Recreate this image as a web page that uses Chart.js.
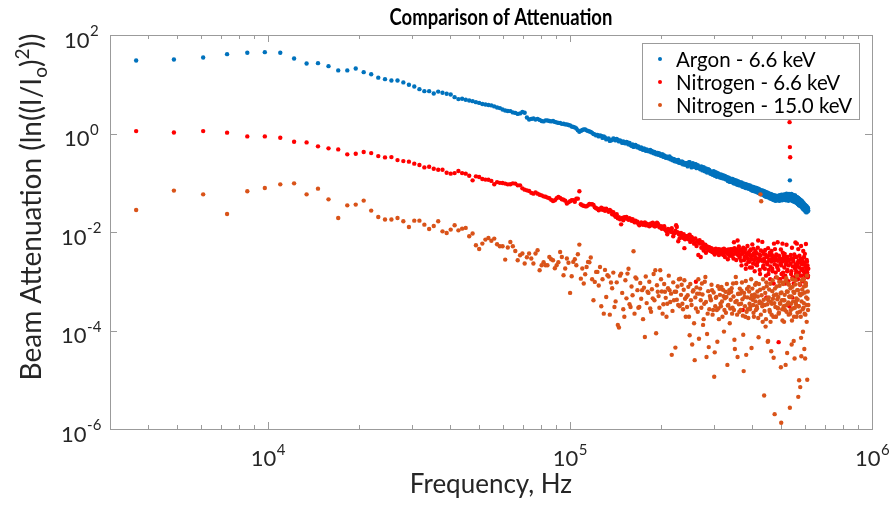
<!DOCTYPE html>
<html>
<head>
<meta charset="utf-8">
<title>Comparison of Attenuation</title>
<script src="https://cdn.jsdelivr.net/npm/chart.js@4.4.0/dist/chart.umd.min.js"></script>
<style>
  html, body { margin: 0; padding: 0; background: #fff; }
  #wrap { width: 891px; height: 506px; }
</style>
</head>
<body>
<div id="wrap"><canvas id="attChart" width="891" height="506"></canvas></div>
<script>
// Frequency bins (Hz): bins 3-40, even bins 42-100, every 3rd bin 103-199, even bins 200-504
const freqHz = [
  3662, 4883, 6104, 7324, 8545, 9766, 10986, 12207, 13428, 14648,
  15869, 17090, 18311, 19531, 20752, 21973, 23193, 24414, 25635, 26855,
  28076, 29297, 30518, 31738, 32959, 34180, 35400, 36621, 37842, 39063,
  40283, 41504, 42725, 43945, 45166, 46387, 47607, 48828,

  51270, 53711, 56152, 58594, 61035, 63477, 65918, 68359, 70801, 73242,
  75684, 78125, 80566, 83008, 85449, 87891, 90332, 92773, 95215, 97656,
  100098, 102539, 104980, 107422, 109863, 112305, 114746, 117188, 119629, 122070,

  125732, 129395, 133057, 136719, 140381, 144043, 147705, 151367, 155029, 158691,
  162354, 166016, 169678, 173340, 177002, 180664, 184326, 187988, 191650, 195313,
  198975, 202637, 206299, 209961, 213623, 217285, 220947, 224609, 228271, 231934,
  235596, 239258, 242920,

  244141, 246582, 249023, 251465, 253906, 256348, 258789, 261230, 263672, 266113,
  268555, 270996, 273438, 275879, 278320, 280762, 283203, 285645, 288086, 290527,
  292969, 295410, 297852, 300293, 302734, 305176, 307617, 310059, 312500, 314941,
  317383, 319824, 322266, 324707, 327148, 329590, 332031, 334473, 336914, 339355,
  341797, 344238, 346680, 349121, 351563, 354004, 356445, 358887, 361328, 363770,
  366211, 368652, 371094, 373535, 375977, 378418, 380859, 383301, 385742, 388184,
  390625, 393066, 395508, 397949, 400391, 402832, 405273, 407715, 410156, 412598,
  415039, 417480, 419922, 422363, 424805, 427246, 429688, 432129, 434570, 437012,
  439453, 441895, 444336, 446777, 449219, 451660, 454102, 456543, 458984, 461426,
  463867, 466309, 468750, 471191, 473633, 476074, 478516, 480957, 483398, 485840,
  488281, 490723, 493164, 495605, 498047, 500488, 502930, 505371, 507813, 510254,
  512695, 515137, 517578, 520020, 522461, 524902, 527344, 529785, 532227, 533447, 534668, 535889,
  537109, 539551, 541992, 544434, 546875, 549316, 551758, 554199, 556641, 559082,
  561523, 563965, 566406, 568848, 571289, 573730, 576172, 578613, 581055, 583496,
  585938, 588379, 590820, 593262, 595703, 598145, 600586, 603027, 605469, 607910,
  610352, 612793, 615234
];

// odd bins 201-503 (437 and 439 are above)
const freqHzOdd = [
  245361, 247803, 250244, 252686, 255127, 257568, 260010, 262451, 264893, 267334,
  269775, 272217, 274658, 277100, 279541, 281982, 284424, 286865, 289307, 291748,
  294189, 296631, 299072, 301514, 303955, 306396, 308838, 311279, 313721, 316162,
  318604, 321045, 323486, 325928, 328369, 330811, 333252, 335693, 338135, 340576,
  343018, 345459, 347900, 350342, 352783, 355225, 357666, 360107, 362549, 364990,
  367432, 369873, 372314, 374756, 377197, 379639, 382080, 384521, 386963, 389404,
  391846, 394287, 396729, 399170, 401611, 404053, 406494, 408936, 411377, 413818,
  416260, 418701, 421143, 423584, 426025, 428467, 430908, 433350, 435791, 438232,
  440674, 443115, 445557, 447998, 450439, 452881, 455322, 457764, 460205, 462646,
  465088, 467529, 469971, 472412, 474854, 477295, 479736, 482178, 484619, 487061,
  489502, 491943, 494385, 496826, 499268, 501709, 504150, 506592, 509033, 511475,
  513916, 516357, 518799, 521240, 523682, 526123, 528564, 531006,
  538330, 540771, 543213, 545654, 548096, 550537, 552979, 555420, 557861, 560303,
  562744, 565186, 567627, 570068, 572510, 574951, 577393, 579834, 582275, 584717,
  587158, 589600, 592041, 594482, 596924, 599365, 601807, 604248, 606689, 609131,
  611572, 614014
];

// remaining bins: odd 41-99, and 101-198 not in the first list
const freqHzFill = [
  50049, 52490, 54932, 57373, 59814, 62256, 64697, 67139, 69580, 72021,
  74463, 76904, 79346, 81787, 84229, 86670, 89111, 91553, 93994, 96436,
  98877, 101318, 103760, 106201, 108643, 111084, 113525, 115967, 118408, 120850,

  123291, 124512, 126953, 128174, 130615, 131836, 134277, 135498, 137939, 139160,
  141602, 142822, 145264, 146484, 148926, 150146, 152588, 153809, 156250, 157471,
  159912, 161133, 163574, 164795, 167236, 168457, 170898, 172119, 174561, 175781,
  178223, 179443, 181885, 183105, 185547, 186768, 189209, 190430, 192871, 194092,
  196533, 197754, 200195, 201416, 203857, 205078, 207520, 208740, 211182, 212402,
  214844, 216064, 218506, 219727, 222168, 223389, 225830, 227051, 229492, 230713,
  233154, 234375, 236816, 238037, 240479, 241699
];

const argon66 = [
  30.4, 31.8, 35.0, 40.8, 43.6, 44.8, 43.6, 33.3, 26.4, 26.8,
  23.3, 19.1, 19.1, 20.9, 17.6, 16.0, 13.6, 12.7, 11.9, 11.9,
  10.9, 9.8, 9.0, 7.96, 7.25, 7.25, 6.5, 7.1, 6.72, 6.41,
  6.21, 5.47, 4.99, 5.08, 4.85, 4.69, 4.54, 4.33,

  3.98, 3.80, 3.55, 3.28, 2.94, 2.85, 2.62, 2.56, 2.64, 1.93,
  2.02, 1.98, 1.79, 1.85, 1.80, 1.79, 1.68, 1.63, 1.58, 1.53,
  1.46, 1.36, 1.27, 1.08, 1.18, 1.21, 1.13, 1.08, 0.98, 0.915,

  0.915, 0.873, 0.777, 0.724, 0.777, 0.741, 0.691, 0.645, 0.66, 0.587,
  0.535, 0.56, 0.51, 0.487, 0.476, 0.444, 0.465, 0.414, 0.395, 0.404,
  0.36, 0.377, 0.335, 0.327, 0.343, 0.306, 0.299, 0.278, 0.292, 0.259,
  0.266, 0.242, 0.248,

  0.25, 0.23, 0.26, 0.24, 0.22, 0.23, 0.21, 0.235, 0.22, 0.2,
  0.21, 0.195, 0.2, 0.182, 0.195, 0.19, 0.17, 0.18, 0.175, 0.16,
  0.17, 0.155, 0.16, 0.15, 0.158, 0.145, 0.152, 0.138, 0.142, 0.133,
  0.138, 0.128, 0.132, 0.124, 0.13, 0.118, 0.125, 0.113, 0.119, 0.11,
  0.115, 0.107, 0.11, 0.102, 0.108, 0.1, 0.106, 0.097, 0.101, 0.095,
  0.099, 0.092, 0.096, 0.089, 0.093, 0.087, 0.091, 0.085, 0.088, 0.082,
  0.085, 0.079, 0.082, 0.076, 0.08, 0.075, 0.079, 0.072, 0.076, 0.07,
  0.074, 0.068, 0.071, 0.065, 0.069, 0.066, 0.063, 0.068, 0.061, 0.064,
  0.06, 0.064, 0.057, 0.061, 0.056, 0.059, 0.054, 0.057, 0.052, 0.056,
  0.051, 0.055, 0.049, 0.053, 0.05, 0.052, 0.047, 0.05, 0.046, 0.049,
  0.047, 0.051, 0.046, 0.05, 0.053, 0.049, 0.054, 0.05, 0.056, 0.051,
  0.055, 0.05, 0.057, 0.052, 0.049, 0.054, 0.058, 0.051, 0.055, 0.052, 0.112, 0.055,
  0.05, 0.056, 0.052, 0.047, 0.053, 0.051, 0.046, 0.05, 0.055, 0.045,
  0.048, 0.043, 0.05, 0.045, 0.041, 0.046, 0.04, 0.044, 0.038, 0.042,
  0.036, 0.041, 0.034, 0.038, 0.033, 0.036, 0.031, 0.034, 0.029, 0.033,
  0.028, 0.031, 0.027
];
const argon66Odd = [
  0.215, 0.262, 0.228, 0.205, 0.248, 0.213, 0.238, 0.198, 0.226, 0.212,
  0.188, 0.214, 0.178, 0.206, 0.171, 0.196, 0.161, 0.188, 0.182, 0.152,
  0.162, 0.145, 0.171, 0.139, 0.163, 0.132, 0.156, 0.149, 0.128, 0.147,
  0.124, 0.142, 0.121, 0.137, 0.117, 0.131, 0.108, 0.127, 0.104, 0.121,
  0.103, 0.119, 0.098, 0.114, 0.095, 0.111, 0.091, 0.108, 0.089, 0.103,
  0.088, 0.101, 0.083, 0.097, 0.081, 0.095, 0.078, 0.092, 0.077, 0.089,
  0.075, 0.088, 0.072, 0.084, 0.069, 0.082, 0.068, 0.08, 0.066, 0.078,
  0.064, 0.077, 0.062, 0.074, 0.06, 0.071, 0.058, 0.07, 0.057, 0.068,
  0.054, 0.066, 0.052, 0.064, 0.051, 0.062, 0.05, 0.06, 0.048, 0.059,
  0.047, 0.057, 0.045, 0.056, 0.044, 0.055, 0.043, 0.054, 0.044, 0.053,
  0.044, 0.055, 0.043, 0.056, 0.045, 0.057, 0.044, 0.055, 0.046, 0.058,
  0.045, 0.057, 0.044, 0.06, 0.046, 0.056, 0.043, 0.059,
  0.045, 0.059, 0.043, 0.057, 0.042, 0.056, 0.041, 0.054, 0.04, 0.052,
  0.039, 0.051, 0.037, 0.049, 0.035, 0.047, 0.034, 0.045, 0.033, 0.043,
  0.031, 0.04, 0.029, 0.038, 0.028, 0.036, 0.026, 0.034, 0.025, 0.032,
  0.026, 0.03
];
const argon66Fill = [
  4.18, 3.89, 3.72, 3.38, 3.08, 2.87, 2.68, 2.50, 2.74, 2.12,
  1.98, 1.93, 1.89, 1.76, 1.84, 1.76, 1.72, 1.64, 1.57, 1.53,
  1.49, 1.39, 1.33, 1.16, 1.13, 1.21, 1.16, 1.10, 1.03, 0.96,

  0.937, 0.873, 0.894, 0.814, 0.834, 0.759, 0.796, 0.708, 0.741, 0.796,
  0.724, 0.777, 0.691, 0.724, 0.645, 0.691, 0.63, 0.676, 0.601, 0.645,
  0.56, 0.601, 0.547, 0.587, 0.522, 0.547, 0.488, 0.522, 0.465, 0.499,
  0.444, 0.476, 0.434, 0.454, 0.414, 0.444, 0.395, 0.424, 0.377, 0.404,
  0.368, 0.395, 0.352, 0.377, 0.335, 0.36, 0.32, 0.343, 0.313, 0.327,
  0.299, 0.32, 0.285, 0.306, 0.272, 0.292, 0.266, 0.285, 0.254, 0.272,
  0.248, 0.266, 0.236, 0.254, 0.231, 0.248
];

const nitrogen66 = [
  1.12, 1.05, 1.12, 1.04, 0.873, 0.873, 0.822, 0.682, 0.66, 0.548,
  0.499, 0.476, 0.377, 0.389, 0.42, 0.40, 0.348, 0.327, 0.332, 0.288,
  0.275, 0.268, 0.244, 0.229, 0.205, 0.212, 0.193, 0.184, 0.184, 0.160,
  0.153, 0.157, 0.173, 0.157, 0.153, 0.139, 0.112, 0.135,

  0.119, 0.115, 0.093, 0.0996, 0.096, 0.093, 0.096, 0.0886, 0.0724, 0.0679,
  0.0601, 0.0601, 0.0555, 0.0518, 0.0483, 0.0426, 0.0483, 0.0494, 0.0454, 0.0377,
  0.042, 0.044, 0.0475, 0.067, 0.0348, 0.0332, 0.0348, 0.0365, 0.0356, 0.0303,

  0.0289, 0.0296, 0.0275, 0.0263, 0.0218, 0.019, 0.0143, 0.0199, 0.0185, 0.0181,
  0.0169, 0.0157, 0.0137, 0.015, 0.0157, 0.0137, 0.0143, 0.0154, 0.0131, 0.0148,
  0.0125, 0.0126, 0.0113, 0.009, 0.0108, 0.0119, 0.0094, 0.0137, 0.0065, 0.0094,
  0.0078, 0.0047, 0.0082,

  0.0082, 0.0071, 0.0088, 0.0066, 0.0075, 0.0072, 0.0059, 0.00098, 0.0064, 0.0034,
  0.0068, 0.0031, 0.0062, 0.0056, 0.0049, 0.0055, 0.0046, 0.005, 0.0043, 0.0047,
  0.0045, 0.004, 0.0044, 0.0037, 0.0042, 0.0043, 0.0038, 0.0045, 0.0036, 0.0041,
  0.0037, 0.0044, 0.0034, 0.0041, 0.0039, 0.0042, 0.0036, 0.0044, 0.0033, 0.004,
  0.0038, 0.0045, 0.0035, 0.0062, 0.0041, 0.0044, 0.0036, 0.0067, 0.0039, 0.0032,
  0.0035, 0.0026, 0.0041, 0.00026, 0.0038, 0.0031, 0.0045, 0.0022, 0.0036, 0.0029,
  0.0039, 0.0025, 0.0042, 0.0032, 0.0019, 0.0034, 0.0046, 0.0027, 0.0031, 0.0022,
  0.0037, 0.0024, 0.0067, 0.0029, 0.0017, 0.0033, 0.00036, 0.0026, 0.004, 0.0021,
  0.0029, 0.0018, 0.0035, 0.00047, 0.0024, 0.0032, 0.0014, 0.0027, 0.0038, 0.002,
  0.0025, 0.0034, 0.0016, 0.0029, 0.0058, 0.0022, 0.0031, 0.0012, 0.0027, 0.0019,
  0.0026, 0.000058, 0.0031, 0.0011, 0.0023, 0.0021, 0.0028, 0.0058, 0.0015, 0.0033,
  0.0019, 0.0027, 0.0009, 0.0024, 0.0031, 0.0017, 0.0026, 0.0021, 0.00031, 1.7, 0.53, 0.33,
  0.0023, 0.0014, 0.0029, 0.00047, 0.002, 0.0025, 0.0012, 0.0031, 0.0018, 0.0022,
  0.0016, 0.0058, 0.0021, 0.0011, 0.0026, 0.0019, 0.0024, 0.0013, 0.0029, 0.0017,
  0.0022, 0.001, 0.0025, 0.0016, 0.0031, 0.0014, 0.0021, 0.0009, 0.0019, 0.0027,
  0.0015, 0.0012, 0.0018
];
const nitrogen66Odd = [
  0.0076, 0.0085, 0.0063, 0.0079, 0.0069, 0.0058, 0.0074, 0.0052, 0.0066, 0.0061,
  0.0058, 0.0048, 0.0061, 0.0042, 0.0053, 0.0038, 0.0051, 0.0044, 0.0049, 0.0041,
  0.0047, 0.0039, 0.0043, 0.0035, 0.0046, 0.0039, 0.0042, 0.0034, 0.0044, 0.0038,
  0.0041, 0.0035, 0.0046, 0.0031, 0.0043, 0.0038, 0.0028, 0.0042, 0.0036, 0.0045,
  0.0033, 0.0042, 0.0029, 0.0047, 0.0037, 0.0027, 0.0044, 0.0034, 0.0051, 0.003,
  0.0044, 0.0021, 0.0036, 0.0048, 0.0027, 0.0039, 0.0018, 0.0033, 0.0052, 0.0025,
  0.0035, 0.0019, 0.0044, 0.0028, 0.0056, 0.0023, 0.0037, 0.0016, 0.0041, 0.0029,
  0.0021, 0.0048, 0.0026, 0.0035, 0.0014, 0.0042, 0.0027, 0.0063, 0.0019, 0.0036,
  0.0025, 0.0043, 0.0013, 0.0031, 0.0022, 0.0047, 0.0017, 0.0034, 0.0011, 0.0028,
  0.0041, 0.0018, 0.0032, 0.0009, 0.0026, 0.0045, 0.0015, 0.0035, 0.0021, 0.0062,
  0.0017, 0.0033, 0.0011, 0.0028, 0.0044, 0.0014, 0.0025, 0.0038, 0.0012, 0.0029,
  0.0036, 0.0013, 0.0022, 0.0055, 0.0016, 0.0031, 0.001, 0.0027,
  0.0034, 0.0016, 0.0048, 0.0012, 0.0027, 0.0009, 0.0035, 0.0019, 0.0061, 0.0014,
  0.0031, 0.0011, 0.0024, 0.0045, 0.0015, 0.0033, 0.00085, 0.0026, 0.0052, 0.0013,
  0.0028, 0.0018, 0.0041, 0.0011, 0.0023, 0.0036, 0.0013, 0.0057, 0.0017, 0.0025,
  0.0021, 0.0013
];
const nitrogen66Fill = [
  0.131, 0.116, 0.109, 0.103, 0.0986, 0.0929, 0.0973, 0.0886, 0.0769, 0.0701,
  0.0624, 0.0638, 0.0569, 0.053, 0.0499, 0.045, 0.044, 0.0513, 0.0461, 0.043,
  0.04, 0.044, 0.041, 0.0476, 0.0365, 0.034, 0.0332, 0.0373, 0.0365, 0.0317,

  0.0296, 0.0275, 0.031, 0.0282, 0.0269, 0.0296, 0.0257, 0.0282, 0.0229, 0.0251,
  0.0203, 0.0229, 0.0199, 0.0181, 0.0194, 0.0173, 0.019, 0.0203, 0.0177, 0.019,
  0.0169, 0.0181, 0.0157, 0.0169, 0.0161, 0.0147, 0.0143, 0.0157, 0.014, 0.015,
  0.0137, 0.0147, 0.0143, 0.0131, 0.015, 0.0137, 0.0147, 0.0131, 0.014, 0.0154,
  0.0137, 0.0125, 0.0131, 0.0116, 0.0122, 0.0131, 0.0111, 0.0103, 0.0116, 0.0108,
  0.0101, 0.0114, 0.0099, 0.0082, 0.0094, 0.0106, 0.0127, 0.0099, 0.009, 0.0075,
  0.0096, 0.0086, 0.0076, 0.009, 0.0071, 0.0082
];

const nitrogen150 = [
  0.0279, 0.0692, 0.0582, 0.0232, 0.067, 0.078, 0.0929, 0.0973, 0.0582, 0.0759,
  0.046, 0.0192, 0.0348, 0.036, 0.0434, 0.0272, 0.0201, 0.0179, 0.0179, 0.0192,
  0.0165, 0.0126, 0.017, 0.017, 0.0141, 0.0115, 0.0132, 0.0165, 0.0103, 0.00955,
  0.0112, 0.0137, 0.0108, 0.0117, 0.0121, 0.0082, 0.0093, 0.0054,

  0.00582, 0.00755, 0.00734, 0.00513, 0.00275, 0.00627, 0.00412, 0.00337, 0.00229, 0.00365,
  0.00229, 0.00426, 0.00211, 0.00211, 0.00311, 0.00267, 0.00211, 0.00393, 0.00132, 0.00289,
  0.00058, 0.00247, 0.00211, 0.00555, 0.00181, 0.00139, 0.00247, 0.00303, 0.00041, 0.00155,

  0.00195, 0.00022, 0.00132, 0.00094, 0.0003, 0.00013, 0.00143, 0.00019, 0.00143, 0.0003,
  0.00406, 0.00113, 0.0003, 0.00066, 0.000074, 0.00061, 0.00028, 0.00045, 0.00167, 0.00061,
  0.00167, 0.00022, 0.00061, 0.00035, 0.00066, 0.000032, 0.00041, 0.00061, 0.00033, 0.00113,
  0.00035, 0.00105, 0.00048,

  0.0003, 0.00077, 0.00008, 0.00041, 0.000052, 0.00066, 0.000025, 0.00028, 0.00056, 0.0011,
  0.00056, 0.00041, 0.0009, 0.00013, 0.00035, 0.00122, 0.000029, 0.00022, 0.000046, 0.0005,
  0.00041, 0.00066, 0.00026, 0.0000115, 0.00031, 0.00048, 0.000059, 0.00028, 0.0007, 0.00035,
  0.00077, 0.00019, 0.0005, 0.00026, 0.00061, 0.00048, 0.00002, 0.00033, 0.00066, 0.00028,
  0.00061, 0.00022, 0.0009, 0.00026, 0.000042, 0.00122, 0.0004, 0.000029, 0.00056, 0.00024,
  0.00056, 0.00035, 0.00094, 0.0002, 0.000015, 0.00048, 0.00019, 0.000032, 0.0007, 0.00027,
  0.00077, 0.00035, 0.0003, 0.0011, 0.00052, 0.00042, 0.00023, 0.00048, 0.00085, 0.00026,
  0.00031, 0.00062, 0.00018, 0.00088, 0.00039, 0.0582, 0.042, 0.00035, 0.00015, 0.00072,
  0.0000048, 0.00033, 0.00012, 0.00095, 0.00045, 0.000059, 0.00041, 0.00068, 0.00024, 0.00015,
  0.000038, 0.00035, 0.00105, 0.00019, 0.00052, 0.000002, 0.0003, 0.00019, 0.00078, 0.00043,
  0.00028, 0.00022, 0.00098, 0.00036, 0.00057, 0.00000134, 0.00041, 0.00016, 0.00088, 0.00031,
  0.00041, 0.00026, 0.00002, 0.00115, 0.00062, 0.00034, 0.0009, 0.00021, 0.00049, 0.00048, 0.0000027, 0.00022,
  0.00072, 0.00035, 0.000052, 0.0011, 0.00028, 0.00061, 0.00019, 0.000027, 0.00086, 0.00038,
  0.00045, 0.0013, 0.00023, 0.00066, 0.00031, 0.0000098, 0.00055, 0.0000071, 0.00019, 0.00003,
  0.00105, 0.00056, 0.000094, 0.00029, 0.00078, 0.00022, 0.000027, 0.00092, 0.00047, 0.00015,
  0.00001, 0.00062, 0.00033
];
const nitrogen150Odd = [
  0.00052, 0.00019, 0.00088, 0.00033, 0.00062, 0.00014, 0.00047, 0.00075, 0.00024, 0.000068,
  0.00071, 0.00029, 0.00054, 0.00017, 0.00098, 0.00038, 0.000085, 0.00063, 0.00027, 0.00044,
  0.00085, 0.00021, 0.00059, 0.000036, 0.00046, 0.00026, 0.00079, 0.00017, 0.00053, 0.00031,
  0.00039, 0.00067, 0.000095, 0.00045, 0.00023, 0.00088, 0.00032, 0.00057, 0.00014, 0.00042,
  0.00072, 0.00029, 0.00049, 0.000065, 0.00038, 0.00092, 0.00021, 0.00055, 0.00034, 0.00071,
  0.00026, 0.00064, 0.00043, 0.000082, 0.00058, 0.00031, 0.00101, 0.00024, 0.00047, 0.00018,
  0.00062, 0.00027, 0.00045, 0.000044, 0.00071, 0.00033, 0.00019, 0.00054, 0.00039, 0.00092,
  0.00028, 0.00049, 0.000073, 0.00036, 0.00067, 0.00021, 0.00052, 0.00031, 0.0011, 0.00042,
  0.00025, 0.00058, 0.00017, 0.00079, 0.00034, 0.000061, 0.00047, 0.00026, 0.00089, 0.00038,
  0.00021, 0.00063, 0.00044, 0.000028, 0.00036, 0.00071, 0.00019, 0.00054, 0.0012, 0.00029,
  0.00048, 0.00023, 0.00081, 0.00035, 0.000018, 0.00059, 0.00027, 0.00094, 0.00041, 0.00015,
  0.00053, 0.00032, 0.00102, 0.00024, 0.000035, 0.00061, 0.00037, 0.00085,
  0.00026, 0.00049, 0.00016, 0.00077, 0.00039, 0.000061, 0.00058, 0.00029, 0.00105, 0.00034,
  0.00019, 0.00066, 0.00042, 0.0000045, 0.00031, 0.00088, 0.00024, 0.00052, 0.000071, 0.00039,
  0.00068, 0.00027, 0.0011, 0.00036, 0.000042, 0.00059, 0.00021, 0.00081, 0.00033, 0.0013,
  0.00044, 0.00026
];
const nitrogen150Fill = [
  0.00452, 0.00701, 0.00663, 0.00563, 0.00513, 0.00483, 0.00513, 0.00267, 0.00365, 0.00307,
  0.00289, 0.00365, 0.00167, 0.00243, 0.00211, 0.00279, 0.00184, 0.00243, 0.00311, 0.00181,
  0.00237, 0.00126, 0.00279, 0.00353, 0.00113, 0.0009, 0.00195, 0.00243, 0.0011, 0.00097,

  0.00155, 0.00082, 0.00031, 0.0011, 0.0017, 0.00048, 0.00125, 0.00021, 0.00072, 0.0015,
  0.00039, 0.00095, 0.000115, 0.0013, 0.00058, 0.00027, 0.00105, 0.00045, 0.0018, 0.00034,
  0.00078, 0.00052, 0.00022, 0.0012, 0.00066, 0.00029, 0.00092, 0.00044, 0.00017, 0.00074,
  0.00125, 0.00036, 0.00058, 0.00098, 0.00024, 0.00069, 0.0014, 0.00041, 0.000088, 0.00083,
  0.0005, 0.00029, 0.0011, 0.00062, 0.00034, 0.00088, 0.00046, 0.00019, 0.00072, 0.0013,
  0.00038, 0.00056, 0.00025, 0.00095, 0.00061, 0.000045, 0.00042, 0.00078, 0.0011, 0.00031,
  0.00053, 0.00085, 0.00027, 0.00067, 0.00044, 0.00019
];

const seriesNames = ['Argon - 6.6 keV', 'Nitrogen - 6.6 keV', 'Nitrogen - 15.0 keV'];
const seriesColors = ['#0072BD', '#FF0000', '#D95319'];
const freqGroups = [freqHz, freqHzOdd, freqHzFill];
const seriesGroups = [
  [argon66, argon66Odd, argon66Fill],
  [nitrogen66, nitrogen66Odd, nitrogen66Fill],
  [nitrogen150, nitrogen150Odd, nitrogen150Fill]
];
const xTickExps = [4, 5, 6];
const yTickExps = [2, 0, -2, -4, -6];

const FONT = 'Lato, "Open Sans", sans-serif';
const AXIS_GREY = '#9b9b9b';
const TEXT_DARK = '#262626';

// "10" with a raised exponent, centred on cx
function drawPower(ctx, exp, cx, baseY) {
  ctx.font = '22px ' + FONT;
  const wBase = ctx.measureText('10').width;
  ctx.font = '15px ' + FONT;
  const wExp = ctx.measureText(String(exp)).width;
  const x0 = cx - (wBase + wExp) / 2;
  ctx.font = '22px ' + FONT;
  ctx.fillText('10', x0, baseY);
  ctx.font = '15px ' + FONT;
  ctx.fillText(String(exp), x0 + wBase + 0.5, baseY - 11.5);
}

function drawYTitle(ctx, cx, cy) {
  const parts = [
    { t: 'Beam Attenuation (ln((I/I', size: 28, dy: 0 },
    { t: 'o', size: 19, dy: 6 },
    { t: ')', size: 28, dy: 0 },
    { t: '2', size: 19, dy: -12 },
    { t: '))', size: 28, dy: 0 }
  ];
  let total = 0;
  parts.forEach(p => { ctx.font = p.size + 'px ' + FONT; p.w = ctx.measureText(p.t).width; total += p.w; });
  ctx.save();
  ctx.translate(cx, cy);
  ctx.rotate(-Math.PI / 2);
  let x = -total / 2;
  parts.forEach(p => {
    ctx.font = p.size + 'px ' + FONT;
    ctx.fillText(p.t, x, p.dy);
    x += p.w;
  });
  ctx.restore();
}

const matlabAxes = {
  id: 'matlabAxes',
  afterDatasetsDraw(chart) {
    const { ctx, chartArea: a, scales: { x, y } } = chart;
    ctx.save();
    ctx.strokeStyle = AXIS_GREY;
    ctx.lineWidth = 1;
    ctx.beginPath();
    // x ticks point inward, bottom and top
    for (let d = 3; d <= 6; d++) {
      for (let m = 1; m <= 9; m++) {
        const v = m * Math.pow(10, d);
        if (v < x.min || v > x.max) continue;
        const px = Math.round(x.getPixelForValue(v)) + 0.5;
        const len = m === 1 ? 7 : 4;
        ctx.moveTo(px, a.bottom); ctx.lineTo(px, a.bottom - len);
        ctx.moveTo(px, a.top); ctx.lineTo(px, a.top + len);
      }
    }
    // y ticks, left and right
    yTickExps.forEach(e => {
      const py = Math.round(y.getPixelForValue(Math.pow(10, e))) + 0.5;
      ctx.moveTo(a.left, py); ctx.lineTo(a.left + 7, py);
      ctx.moveTo(a.right, py); ctx.lineTo(a.right - 7, py);
    });
    ctx.stroke();
    ctx.strokeRect(Math.round(a.left) + 0.5, Math.round(a.top) + 0.5,
                   Math.round(a.right - a.left), Math.round(a.bottom - a.top));
    ctx.restore();
  },
  afterDraw(chart) {
    const { ctx, chartArea: a, scales: { x, y } } = chart;
    ctx.save();
    ctx.fillStyle = TEXT_DARK;
    ctx.textBaseline = 'alphabetic';
    ctx.textAlign = 'left';

    xTickExps.forEach(e => drawPower(ctx, e, x.getPixelForValue(Math.pow(10, e)), a.bottom + 37));
    yTickExps.forEach(e => drawPower(ctx, e, 81, y.getPixelForValue(Math.pow(10, e)) + 12.5));

    // axis titles
    ctx.font = '26px ' + FONT;
    ctx.textAlign = 'center';
    ctx.fillText('Frequency, Hz', (a.left + a.right) / 2, 493);
    ctx.textAlign = 'left';
    drawYTitle(ctx, 41, 207);

    // title, a little condensed like the original
    ctx.fillStyle = '#000';
    ctx.font = 'bold 22px ' + FONT;
    ctx.textAlign = 'center';
    ctx.save();
    ctx.translate(501, 25);
    ctx.scale(0.84, 1);
    ctx.fillText('Comparison of Attenuation', 0, 0);
    ctx.restore();

    // legend box
    const lx = 642.5, ly = 43.5, lw = 217, lh = 76;
    ctx.fillStyle = '#fff';
    ctx.fillRect(lx, ly, lw, lh);
    ctx.strokeStyle = AXIS_GREY;
    ctx.lineWidth = 1;
    ctx.strokeRect(lx, ly, lw, lh);
    ctx.font = '20.5px ' + FONT;
    ctx.textAlign = 'left';
    ctx.textBaseline = 'middle';
    seriesNames.forEach((name, i) => {
      const rowY = 59 + i * 23;
      ctx.fillStyle = seriesColors[i];
      ctx.beginPath();
      ctx.arc(660, rowY, 2, 0, Math.PI * 2);
      ctx.fill();
      ctx.fillStyle = '#000';
      ctx.fillText(name, 676, rowY + 1);
    });
    ctx.restore();
  }
};

function toPoints(groups) {
  let pts = [];
  groups.forEach((vals, g) => {
    pts = pts.concat(vals.map((v, k) => ({ x: freqGroups[g][k], y: v })));
  });
  return pts;
}

new Chart(document.getElementById('attChart'), {
  type: 'scatter',
  data: {
    datasets: seriesGroups.map((groups, i) => ({
      label: seriesNames[i],
      data: toPoints(groups),
      backgroundColor: seriesColors[i],
      pointRadius: 2.2,
      pointBorderWidth: 0,
      pointHoverRadius: 0,
      order: 2 - i
    }))
  },
  options: {
    responsive: false,
    animation: false,
    devicePixelRatio: 1,
    layout: { padding: { left: 110, top: 35, right: 19, bottom: 77 } },
    plugins: {
      legend: { display: false },
      tooltip: { enabled: false }
    },
    scales: {
      x: { type: 'logarithmic', min: 3000, max: 1e6, display: false },
      y: { type: 'logarithmic', min: 1e-6, max: 100, display: false }
    }
  },
  plugins: [matlabAxes]
});
</script>
</body>
</html>
